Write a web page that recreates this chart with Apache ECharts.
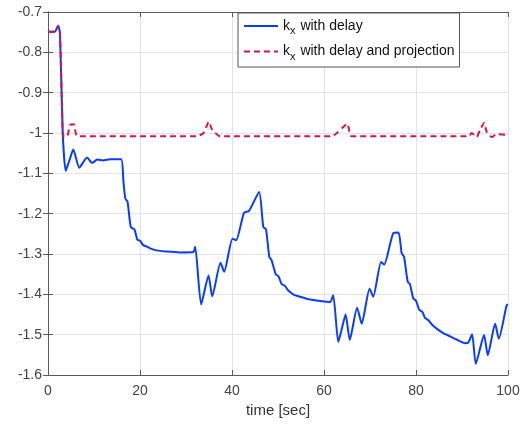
<!DOCTYPE html>
<html>
<head>
<meta charset="utf-8">
<script src="https://cdn.jsdelivr.net/npm/echarts@6/dist/echarts.min.js"></script>
<style>html,body{margin:0;padding:0;background:#fff;}#c{width:528px;height:424px;}</style>
</head>
<body>
<div id="c"></div>
<script>
const blueX = [0, 1.5, 2.2, 2.6, 3.2, 3.85, 4.6, 5.5, 6.8, 8.5, 9.6, 10.7, 12, 13.5, 15.9, 16.4, 16.8, 17.3, 18, 18.8, 19.4, 20, 20.7, 21.4, 22.2, 23.6, 25.8, 28.7, 31.6, 32.0, 33.3, 34.9, 35.7, 37.5, 38.3, 40.1, 40.9, 42.6, 43.7, 45.9, 46.8, 47.4, 48.1, 48.6, 49.5, 50.1, 50.8, 51.5, 52.2, 53.3, 54.8, 57, 61.3, 62.0, 63.1, 63.8, 64.7, 65.6, 67.2, 68.2, 69.9, 70.7, 72.4, 73.1, 75.1, 76.2, 76.9, 77.4, 78.2, 78.7, 79.4, 80, 80.7, 81.4, 82, 82.7, 83.4, 84.5, 85.9, 87.4, 88.8, 90.7, 91.4, 92.2, 93, 94.8, 95.6, 97.2, 98, 99.7, 100];
const blueY = [-0.749, -0.749, -0.734, -0.752, -1.0, -1.094, -1.07, -1.041, -1.086, -1.061, -1.074, -1.066, -1.068, -1.065, -1.065, -1.12, -1.162, -1.171, -1.233, -1.239, -1.264, -1.267, -1.278, -1.281, -1.286, -1.291, -1.294, -1.296, -1.295, -1.282, -1.425, -1.353, -1.405, -1.322, -1.344, -1.262, -1.266, -1.198, -1.193, -1.146, -1.233, -1.239, -1.307, -1.315, -1.35, -1.355, -1.375, -1.379, -1.39, -1.40, -1.406, -1.413, -1.419, -1.402, -1.518, -1.489, -1.45, -1.513, -1.433, -1.473, -1.386, -1.406, -1.32, -1.326, -1.248, -1.247, -1.299, -1.307, -1.369, -1.375, -1.41, -1.416, -1.438, -1.444, -1.459, -1.464, -1.474, -1.485, -1.496, -1.504, -1.512, -1.521, -1.519, -1.499, -1.572, -1.501, -1.551, -1.473, -1.51, -1.427, -1.425];
const redX = [0, 1.5, 2.2, 2.6, 3.2, 3.5, 4.2, 4.8, 5.6, 6.4, 32.3, 33.8, 35.0, 35.6, 37.4, 61.7, 62.8, 64.2, 65.1, 66, 91.5, 92.1, 93.2, 93.9, 94.8, 95.4, 96.5, 97.5, 100];
const redY = [-0.749, -0.749, -0.734, -0.752, -1.0, -1.01, -1.008, -0.98, -0.978, -1.008, -1.008, -1.0, -0.972, -0.99, -1.008, -1.008, -1.0, -0.985, -0.977, -1.008, -1.008, -1.0, -1.01, -0.993, -0.975, -0.998, -1.01, -1.003, -1.005];
const xTicks = [0, 20, 40, 60, 80, 100];
const yTicks = [-1.6, -1.5, -1.4, -1.3, -1.2, -1.1, -1, -0.9, -0.8, -0.7];
const seriesNames = ['kx with delay', 'kx with delay and projection'];

const pair = (xs, ys) => xs.map((x, i) => [x, ys[i]]);
const font = 'Liberation Sans, Arial, Helvetica, sans-serif';
const axisCol = '#5a5a5a';
const labelCol = '#444';

const chart = echarts.init(document.getElementById('c'));
chart.setOption({
  animation: false,
  backgroundColor: '#fff',
  grid: { left: 48, right: 20, top: 12, bottom: 49, containLabel: false },
  legend: {
    orient: 'vertical',
    left: 238, top: 13,
    padding: [6, 5, 5, 5],
    itemGap: 8,
    itemWidth: 34, itemHeight: 14,
    icon: 'inherit',
    itemStyle: { opacity: 0 },
    backgroundColor: '#fff',
    borderColor: '#555', borderWidth: 1,
    data: seriesNames,
    formatter: function (n) { return 'k{sub|x}' + n.slice(2); },
    textStyle: {
      fontFamily: font, fontSize: 14, color: '#111',
      rich: { sub: { fontFamily: font, fontSize: 11, color: '#111', padding: [10, 1, 0, 0] } }
    }
  },
  xAxis: [{
    type: 'value', min: xTicks[0], max: xTicks[xTicks.length - 1], interval: 20,
    name: 'time [sec]', nameLocation: 'middle', nameGap: 26,
    nameTextStyle: { fontFamily: font, fontSize: 15, color: '#333' },
    axisLine: { lineStyle: { color: axisCol, width: 1 } },
    axisTick: { inside: true, length: 5, lineStyle: { color: axisCol } },
    axisLabel: { fontFamily: font, fontSize: 14, color: labelCol, margin: 9 },
    splitLine: { show: true, lineStyle: { color: '#e3e3e3', width: 1 } }
  }, {
    type: 'value', position: 'top', min: 0, max: 100, interval: 20,
    axisLine: { show: true, lineStyle: { color: axisCol } },
    axisTick: { inside: true, length: 5, lineStyle: { color: axisCol } },
    axisLabel: { show: false }, splitLine: { show: false }
  }],
  yAxis: [{
    type: 'value', min: yTicks[0], max: yTicks[yTicks.length - 1], interval: 0.1,
    axisLine: { show: true, lineStyle: { color: axisCol, width: 1 } },
    axisTick: { show: true, inside: true, length: 5, lineStyle: { color: axisCol } },
    axisLabel: {
      fontFamily: font, fontSize: 14, color: labelCol, margin: 6,
      formatter: v => String(parseFloat(v.toFixed(1)))
    },
    splitLine: { show: true, lineStyle: { color: '#e3e3e3', width: 1 } }
  }, {
    type: 'value', position: 'right', min: -1.6, max: -0.7, interval: 0.1,
    axisLine: { show: true, lineStyle: { color: axisCol } },
    axisTick: { show: true, inside: true, length: 5, lineStyle: { color: axisCol } },
    axisLabel: { show: false }, splitLine: { show: false }
  }],
  series: [{
    name: seriesNames[0], type: 'line', xAxisIndex: 0, yAxisIndex: 0,
    data: pair(blueX, blueY), showSymbol: false, symbol: 'none', smooth: 0.2,
    lineStyle: { color: '#0a3cff', width: 2 }, itemStyle: { color: '#0a3cff' }, z: 3
  }, {
    name: seriesNames[1], type: 'line', xAxisIndex: 0, yAxisIndex: 0,
    data: pair(redX, redY), showSymbol: false, symbol: 'none', smooth: 0.2,
    lineStyle: { color: '#d9134a', width: 2, type: [6, 4] }, itemStyle: { color: '#d9134a' }, z: 4
  }]
});
</script>
</body>
</html>
